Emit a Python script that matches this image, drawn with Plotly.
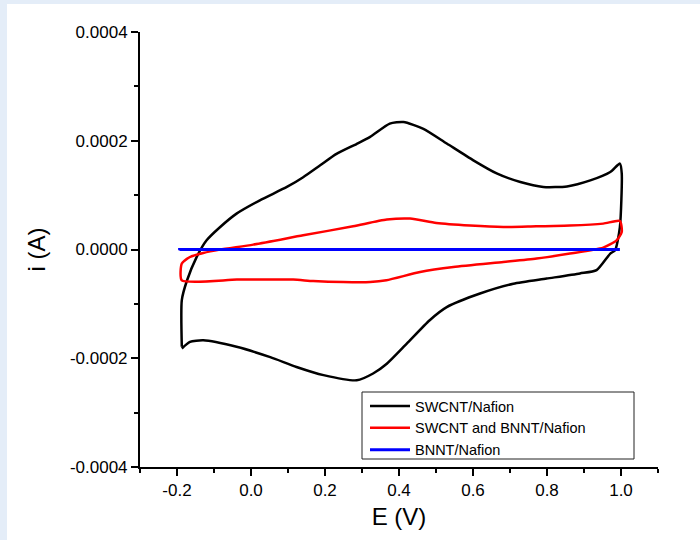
import plotly.graph_objects as go

# SWCNT/Nafion (black) - potential (V) and current (A)
swcnt_E = [-0.187, -0.187, -0.173, -0.147, -0.120, -0.084, -0.039, 0.024, 0.097, 0.141,
           0.187, 0.231, 0.285, 0.322, 0.375, 0.412, 0.466, 0.529,
           0.601, 0.664, 0.728, 0.790, 0.854, 0.917, 0.971, 0.997,
           1.002, 0.997, 0.984, 0.971, 0.934, 0.889, 0.799, 0.709, 0.619, 0.529,
           0.483, 0.421, 0.367, 0.330, 0.286, 0.196, 0.123, 0.052, -0.039, -0.129,
           -0.165, -0.187]
swcnt_i = [-1.79e-4, -0.93e-4, -0.57e-4, -0.14e-4, 0.17e-4, 0.41e-4, 0.66e-4, 0.905e-4, 1.15e-4, 1.33e-4,
           1.55e-4, 1.76e-4, 1.94e-4, 2.07e-4, 2.315e-4, 2.345e-4, 2.22e-4, 1.95e-4,
           1.64e-4, 1.40e-4, 1.24e-4, 1.15e-4, 1.16e-4, 1.27e-4, 1.425e-4, 1.58e-4,
           1.40e-4, 0.41e-4, -0.015e-4, -0.075e-4, -0.38e-4, -0.44e-4, -0.535e-4, -0.63e-4, -0.81e-4, -1.06e-4,
           -1.30e-4, -1.73e-4, -2.10e-4, -2.28e-4, -2.405e-4, -2.31e-4, -2.16e-4, -1.98e-4, -1.79e-4, -1.67e-4,
           -1.70e-4, -1.82e-4]

# SWCNT and BNNT/Nafion (red)
mix_E = [-0.187, -0.187, -0.165, -0.129, -0.084, 0.006, 0.141, 0.276, 0.367, 0.430,
         0.501, 0.592, 0.682, 0.771, 0.862, 0.952, 0.997,
         1.002, 0.988, 0.952, 0.862, 0.772, 0.682, 0.547, 0.457, 0.366, 0.322,
         0.249, 0.168, 0.114, 0.052, -0.038, -0.187]
mix_i = [-0.566e-4, -0.259e-4, -0.138e-4, -0.064e-4, -0.002e-4, 0.090e-4, 0.261e-4, 0.427e-4, 0.550e-4, 0.568e-4,
         0.487e-4, 0.440e-4, 0.414e-4, 0.427e-4, 0.440e-4, 0.476e-4, 0.524e-4,
         0.322e-4, 0.169e-4, 0.035e-4, -0.075e-4, -0.167e-4, -0.230e-4, -0.322e-4, -0.414e-4, -0.566e-4, -0.598e-4,
         -0.598e-4, -0.579e-4, -0.554e-4, -0.554e-4, -0.554e-4, -0.566e-4]

# BNNT/Nafion (blue)
bnnt_E = [-0.193, 0.000, 0.200, 0.400, 0.600, 0.800, 0.997, 0.800, 0.600, 0.400, 0.200, 0.000, -0.193]
bnnt_i = [-0.01e-5, 0.00e-5, 0.01e-5, 0.01e-5, 0.01e-5, 0.01e-5, 0.02e-5,
          -0.01e-5, -0.01e-5, -0.01e-5, -0.02e-5, -0.02e-5, -0.01e-5]

series_names = ["SWCNT/Nafion", "SWCNT and BNNT/Nafion", "BNNT/Nafion"]
series_colors = ["#000000", "#ff0000", "#0000ff"]

x_tickvals = [-0.2, 0.0, 0.2, 0.4, 0.6, 0.8, 1.0]
x_ticktext = ["-0.2", "0.0", "0.2", "0.4", "0.6", "0.8", "1.0"]
y_tickvals = [-0.0004, -0.0002, 0.0, 0.0002, 0.0004]
y_ticktext = ["-0.0004", "-0.0002", "0.0000", "0.0002", "0.0004"]

fig = go.Figure()
for E, I, name, col, w in [(swcnt_E, swcnt_i, series_names[0], series_colors[0], 2.5),
                           (mix_E, mix_i, series_names[1], series_colors[1], 2.5),
                           (bnnt_E, bnnt_i, series_names[2], series_colors[2], 3)]:
    fig.add_trace(go.Scatter(x=E, y=I, mode="lines", name=name,
                             line=dict(color=col, width=w, shape="spline", smoothing=0.6)))

font_family = "Liberation Sans, Arial, sans-serif"
L, R, T, B = 140, 42, 32, 73
W, H = 700, 540
pw, ph = W - L - R, H - T - B


def px_x(p):
    return (p - L) / pw


def px_y(p):
    return (T + ph - p) / ph


fig.update_layout(
    width=W, height=H,
    margin=dict(l=L, r=R, t=T, b=B, pad=0),
    paper_bgcolor="#e4edf8",
    plot_bgcolor="#ffffff",
    font=dict(family=font_family, color="#000000", size=17),
    showlegend=True,
    legend=dict(x=px_x(365), y=px_y(390), xanchor="left", yanchor="top",
                bgcolor="rgba(0,0,0,0)", borderwidth=0,
                font=dict(family=font_family, size=14.5, color="#000000"),
                tracegroupgap=0, itemwidth=40),
    shapes=[dict(type="rect", xref="paper", yref="paper",
                 x0=px_x(7), x1=px_x(W + 5), y0=px_y(H + 5), y1=px_y(4),
                 fillcolor="#ffffff", line=dict(width=0), layer="below"),
            dict(type="rect", xref="paper", yref="paper",
                 x0=px_x(362), x1=px_x(634), y0=px_y(459), y1=px_y(392),
                 fillcolor="#ffffff", line=dict(width=1, color="#222222"), layer="above")],
    xaxis=dict(range=[-0.3, 1.1], tickmode="array", tickvals=x_tickvals, ticktext=x_ticktext,
               showgrid=False, zeroline=False, showline=True, linewidth=2, linecolor="#000000",
               ticks="outside", ticklen=7, tickwidth=2, tickcolor="#000000",
               minor=dict(tickmode="linear", dtick=0.1, tick0=-0.3, ticks="outside", ticklen=4,
                          tickwidth=2, tickcolor="#000000", showgrid=False),
               tickfont=dict(size=17),
               title=dict(text="E (V)", font=dict(size=24), standoff=9)),
    yaxis=dict(range=[-0.0004, 0.0004], tickmode="array", tickvals=y_tickvals, ticktext=y_ticktext,
               showgrid=False, zeroline=False, showline=True, linewidth=2, linecolor="#000000",
               ticks="outside", ticklen=7, tickwidth=2, tickcolor="#000000",
               minor=dict(tickmode="linear", dtick=0.0001, tick0=-0.0004, ticks="outside", ticklen=4,
                          tickwidth=2, tickcolor="#000000", showgrid=False),
               tickfont=dict(size=17),
               title=dict(text="i (A)", font=dict(size=24), standoff=18)),
)

fig.write_html("out.html", config={"displayModeBar": False},
               post_script="document.body.style.margin='0';")
